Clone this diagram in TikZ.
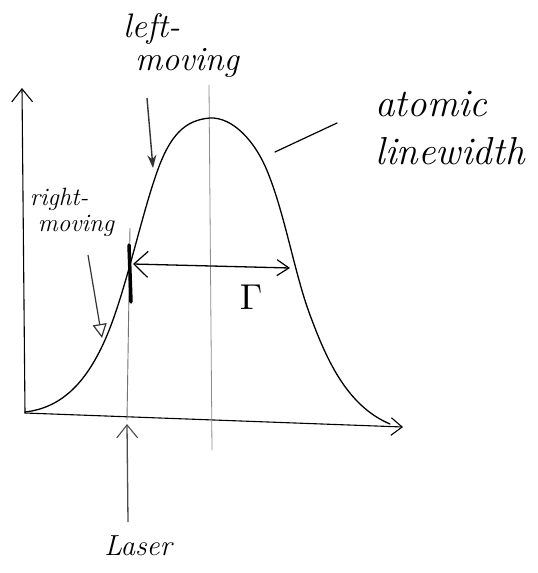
\documentclass[tikz,border=0pt]{standalone}
\usetikzlibrary{arrows.meta}
\begin{document}
\begin{tikzpicture}[x=1pt,y=-1pt,
  ink/.style={line width=1.3pt,black,line cap=round,line join=round},
  axis/.style={line width=1.1pt,black,line cap=round},
  guide/.style={line width=0.8pt,black!45},
  laserln/.style={line width=0.9pt,black!55},
  lbl/.style={inner sep=0pt,align=left,font=\itshape},
  vhead/.style={-{Straight Barb[length=#1,width=1.6*#1,line width=1.1pt]}},
]
\useasboundingbox (0,0) rectangle (538,573);
% axes
\coordinate (O) at (25,413);
\coordinate (ytop) at (22,88);
\coordinate (xend) at (403,427);
\draw[axis,vhead=13pt] (O) -- (ytop);
\draw[axis,vhead=11pt] (O) -- (xend);
% centre line and laser line
\coordinate (ctop) at (209,85);
\coordinate (cbot) at (212,450);
\draw[guide] (ctop) -- (cbot);
\coordinate (ltop) at (130,228);
\coordinate (lbot) at (127,420);
\draw[laserln] (ltop) -- (lbot);
% profile
\coordinate (p0) at (25,412);
\coordinate (p1) at (105,340);
\coordinate (p2) at (157,172);
\coordinate (p3) at (210,118);
\coordinate (p4) at (268,173);
\coordinate (p5) at (310,315);
\coordinate (p6) at (390,424);
\draw[ink] (p0) .. controls (60,408) and (85,385) .. (p1)
  .. controls (125,295) and (140,220) .. (p2)
  .. controls (170,135) and (185,120) .. (p3)
  .. controls (232,117) and (255,140) .. (p4)
  .. controls (285,215) and (295,275) .. (p5)
  .. controls (325,355) and (345,405) .. (p6);
% thick laser mark
\coordinate (m1) at (129,245);
\coordinate (m2) at (131,302);
\draw[line width=3.5pt,black,line cap=round] (m1) -- (m2);
% Gamma arrow
\coordinate (g1) at (133,264);
\coordinate (g2) at (290,268);
\draw[line width=1.3pt,{Straight Barb[length=14pt,width=26pt,line width=1.2pt]}-{Straight Barb[length=12pt,width=16pt,line width=1.2pt]}] (g1) -- (g2);
\node[inner sep=0pt,scale=3.6] (gam) at (251,297) {$\Gamma$};
% labels
\node[lbl,font=\itshape\fontsize{34}{33}\selectfont] (lm) at (181,45) {left-\\\hspace{12pt}moving};
\node[lbl,font=\itshape\fontsize{39}{48}\selectfont] (al) at (450,128) {atomic\\linewidth};
\node[lbl,font=\itshape\fontsize{25}{26}\selectfont] (rm) at (72,212) {right-\\\hspace{8pt}moving};
\node[lbl,font=\itshape\fontsize{29}{29}\selectfont] (las) at (138,546) {Laser};
% pointer arrows
\coordinate (la1) at (147,98);
\coordinate (la2) at (153,168);
\draw[line width=1.4pt,black!80,-{Stealth[length=13pt,width=9pt]}] (la1) -- (la2);
\coordinate (ra1) at (88,255);
\coordinate (ra2) at (102,338);
\draw[line width=1.2pt,black!80,-{Triangle[open,length=14pt,width=14pt]}] (ra1) -- (ra2);
\coordinate (a1) at (275,152);
\coordinate (a2) at (337,123);
\draw[ink,line width=1.2pt] (a1) -- (a2);
% laser arrow
\coordinate (lt) at (128,522);
\coordinate (lh) at (127,424);
\draw[line width=1.3pt,black!70,vhead=13pt] (lt) -- (lh);
\end{tikzpicture}
\end{document}
